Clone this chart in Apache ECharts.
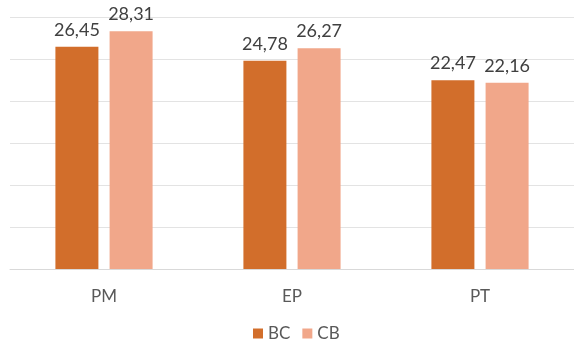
<!DOCTYPE html>
<html>
<head>
<meta charset="utf-8">
<script src="https://cdn.jsdelivr.net/npm/echarts@6/dist/echarts.min.js"></script>
<style>
  html, body { margin: 0; padding: 0; background: #fff; }
  #chart { width: 574px; height: 347px; }
</style>
</head>
<body>
<div id="chart"></div>
<script>
const categories = ["PM", "EP", "PT"];
const bcValues = [26.45, 24.78, 22.47];
const cbValues = [28.31, 26.27, 22.16];

const fmt = p => p.value.toFixed(2).replace(".", ",");

const chart = echarts.init(document.getElementById("chart"));
chart.setOption({
  animation: false,
  textStyle: { fontFamily: "Lato" },
  grid: { left: 10, right: 0, top: 17, bottom: 78 },
  legend: {
    bottom: 0,
    left: 248,
    itemWidth: 10,
    itemHeight: 10,
    itemGap: 12,
    icon: "rect",
    textStyle: { color: "#595959", fontSize: 17 },
    data: ["BC", "CB"]
  },
  xAxis: {
    type: "category",
    data: categories,
    axisTick: { show: false },
    axisLine: { lineStyle: { color: "#D9D9D9" } },
    axisLabel: { color: "#595959", fontSize: 17, margin: 19 }
  },
  yAxis: {
    type: "value",
    min: 0,
    max: 30,
    interval: 5,
    axisLabel: { show: false },
    axisLine: { show: false },
    axisTick: { show: false },
    splitLine: { lineStyle: { color: "#E3E3E3" } }
  },
  series: [
    {
      name: "BC",
      type: "bar",
      data: bcValues,
      barWidth: 43,
      barGap: "26%",
      itemStyle: { color: "#D26E2B" },
      label: { show: true, position: "top", distance: 8, color: "#404040", fontSize: 18, formatter: fmt }
    },
    {
      name: "CB",
      type: "bar",
      data: cbValues,
      barWidth: 43,
      itemStyle: { color: "#F1A78A" },
      label: { show: true, position: "top", distance: 8, color: "#404040", fontSize: 18, formatter: fmt }
    }
  ]
});
</script>
</body>
</html>
